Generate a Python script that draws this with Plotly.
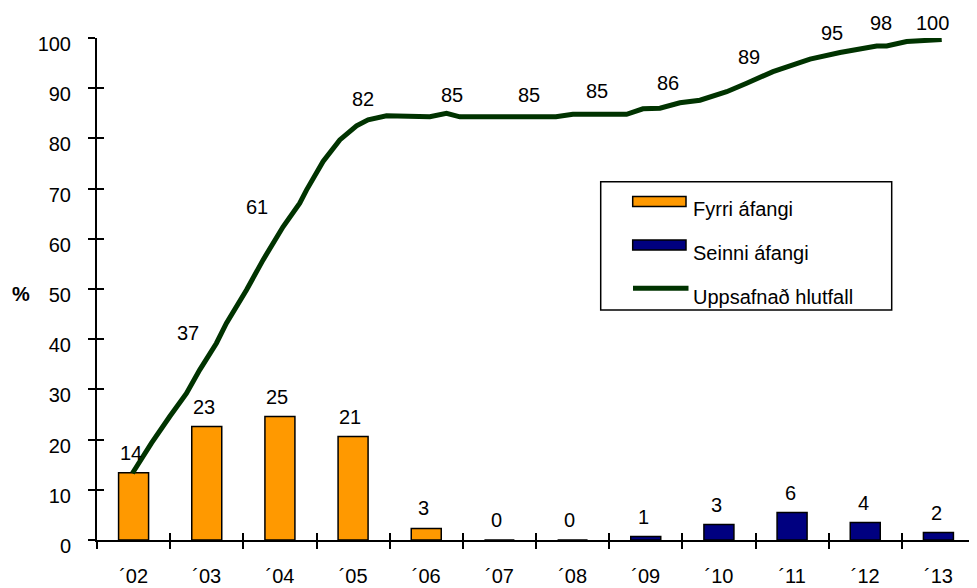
import plotly.graph_objects as go

# ---------------- data ----------------
categories = ["´02", "´03", "´04", "´05", "´06", "´07", "´08", "´09", "´10", "´11", "´12", "´13"]

fyrri_values = [13.4, 22.6, 24.6, 20.6, 2.3, 0, 0]          # ´02 - ´08
fyrri_labels = [14, 23, 25, 21, 3, 0, 0]
seinni_values = [0.7, 3.1, 5.5, 3.5, 1.5]                  # ´09 - ´13
seinni_labels = [1, 3, 6, 4, 2]

# cumulative share, sampled along the time axis (position in category units)
cum_pos = [-0.016, 0.244, 0.494, 0.722, 0.904, 1.132, 1.269, 1.406, 1.543, 1.770,
           2.043, 2.271, 2.363, 2.590, 2.818, 3.047, 3.205, 3.457, 3.639, 4.049,
           4.277, 4.459, 5.772, 6.004, 6.738, 6.961, 7.194, 7.467, 7.741, 8.106,
           8.379, 8.739, 9.245, 9.655, 10.156, 10.293, 10.566, 11.045]
cum_pct = [13.3, 19.3, 24.6, 29.2, 33.9, 39.2, 43.2, 46.5, 49.8, 55.8,
           62.4, 67.1, 69.7, 75.4, 79.7, 82.5, 83.7, 84.5, 84.5, 84.3,
           85.0, 84.3, 84.3, 84.8, 84.8, 85.9, 86.0, 87.1, 87.6, 89.3,
           91.0, 93.3, 95.8, 97.1, 98.4, 98.4, 99.3, 99.7]

cum_labels = [37, 61, 82, 85, 85, 85, 86, 89, 95, 98, 100]   # ´03 - ´13

# ---------------- style ----------------
ORANGE = "#FF9900"
NAVY = "#000080"
GREEN = "#003300"
FONT = "Liberation Sans, Arial, sans-serif"
FS = 20

# page body has an 8px margin; figure is sized so the plot lands where the reference has it
OFF = 8
W, H = 977 - OFF, 588 - OFF
ML, MR, MT, MB = 97 - OFF, 2, 38 - OFF, 48
PW, PH = W - ML - MR, H - MT - MB

# label offsets for cumulative labels (category units, pixels)
cum_label_dx = [-0.256, -0.307, 0.129, 0.354, 0.402, 0.328, 0.303, 0.414, 0.541, 0.211, -0.078]
cum_label_dy = [21.6, 27.1, 29.6, 18.1, 18.6, 22.6, 25.6, 36.1, 30.1, 25.1, 15.1]

idx = list(range(len(categories)))
fyrri_x = idx[:len(fyrri_values)]
seinni_x = idx[len(categories) - len(seinni_values):]
bounds = [i - 0.5 for i in range(len(categories) + 1)]

fig = go.Figure()
fig.add_trace(go.Bar(x=fyrri_x, y=fyrri_values, width=0.41, name="Fyrri áfangi",
                     marker=dict(color=ORANGE, line=dict(color="black", width=1.5))))
fig.add_trace(go.Bar(x=seinni_x, y=seinni_values, width=0.41, name="Seinni áfangi",
                     marker=dict(color=NAVY, line=dict(color="black", width=1.5))))
fig.add_trace(go.Scatter(x=cum_pos, y=cum_pct, mode="lines", name="Uppsafnað hlutfall",
                         line=dict(color=GREEN, width=5), cliponaxis=False))
# empty helper traces so the overlay axes (crossing ticks, centred labels) are drawn
fig.add_trace(go.Scatter(x=[], y=[], xaxis="x2", yaxis="y2", showlegend=False, hoverinfo="skip"))
fig.add_trace(go.Scatter(x=[], y=[], xaxis="x3", yaxis="y", showlegend=False, hoverinfo="skip"))

annotations = []
for x, v, lab in zip(fyrri_x, fyrri_values, fyrri_labels):
    annotations.append(dict(x=x, y=v, text=str(lab), showarrow=False, yshift=20, xshift=-3,
                            font=dict(size=FS, color="black", family=FONT)))
for x, v, lab in zip(seinni_x, seinni_values, seinni_labels):
    annotations.append(dict(x=x, y=v, text=str(lab), showarrow=False, yshift=19, xshift=-2,
                            font=dict(size=FS, color="black", family=FONT)))
for i, (lab, dx, dy) in enumerate(zip(cum_labels, cum_label_dx, cum_label_dy)):
    ci = i + 1
    annotations.append(dict(x=ci + dx, y=lab, text=str(lab), showarrow=False, yshift=dy,
                            font=dict(size=FS, color="black", family=FONT)))


def px2paper(px, py):
    """reference-window pixel -> paper coordinate"""
    return (px - OFF - ML) / PW, (MT + PH - (py - OFF)) / PH


ax, ay = px2paper(20.5, 294)
annotations.append(dict(x=ax, y=ay, xref="paper", yref="paper", text="<b>%</b>", showarrow=False,
                        xanchor="center", yanchor="middle",
                        font=dict(size=FS, color="black", family=FONT)))

# legend (drawn box)
shapes = []
x0, y0 = px2paper(600.7, 310)
x1, y1 = px2paper(891.7, 181.7)
shapes.append(dict(type="rect", xref="paper", yref="paper", x0=x0, y0=y0, x1=x1, y1=y1,
                   line=dict(color="black", width=1.5), fillcolor="white", layer="above"))
legend_items = [("Fyrri áfangi", ORANGE, 201.4, 209), ("Seinni áfangi", NAVY, 245, 253)]
for text, col, sy, ty in legend_items:
    a0, b0 = px2paper(632.7, sy + 5)
    a1, b1 = px2paper(686, sy - 5)
    shapes.append(dict(type="rect", xref="paper", yref="paper", x0=a0, y0=b0, x1=a1, y1=b1,
                       line=dict(color="black", width=1.5), fillcolor=col, layer="above"))
    tx, tyy = px2paper(690.7, ty)
    annotations.append(dict(x=tx, y=tyy, xref="paper", yref="paper", text=text, showarrow=False,
                            xanchor="left", yanchor="middle",
                            font=dict(size=FS, color="black", family=FONT)))
a0, b0 = px2paper(633, 288.3)
a1, _ = px2paper(688.5, 288.3)
shapes.append(dict(type="line", xref="paper", yref="paper", x0=a0, y0=b0, x1=a1, y1=b0,
                   line=dict(color=GREEN, width=5), layer="above"))
tx, tyy = px2paper(690.7, 297)
annotations.append(dict(x=tx, y=tyy, xref="paper", yref="paper", text="Uppsafnað hlutfall",
                        showarrow=False, xanchor="left", yanchor="middle",
                        font=dict(size=FS, color="black", family=FONT)))

yticks = list(range(0, 101, 10))
xr = [-0.5, len(categories) - 0.5]
fig.update_layout(
    width=W, height=H,
    margin=dict(l=ML, r=MR, t=MT, b=MB, autoexpand=False),
    paper_bgcolor="white", plot_bgcolor="white",
    font=dict(family=FONT, size=FS, color="black"),
    barmode="overlay", showlegend=False,
    xaxis=dict(range=xr, tickmode="array", tickvals=bounds, automargin=False,
               ticktext=[""] * len(bounds), ticks="outside", ticklen=7, tickwidth=1.5,
               tickcolor="black", showline=True, linecolor="black", linewidth=2,
               showgrid=False, zeroline=False),
    xaxis2=dict(overlaying="x", anchor="y", range=xr, automargin=False,
                tickmode="array", tickvals=bounds, ticktext=[""] * len(bounds),
                ticks="inside", ticklen=7, tickwidth=1.5, tickcolor="black",
                showline=False, showgrid=False, zeroline=False, side="bottom"),
    xaxis3=dict(overlaying="x", anchor="y", range=xr, automargin=False,
                tickmode="array", tickvals=idx, ticktext=categories, ticks="",
                showline=False, showgrid=False, zeroline=False, side="bottom",
                ticklabelstandoff=22, tickfont=dict(size=FS, family=FONT, color="black")),
    yaxis=dict(range=[0, 100], tickmode="array", tickvals=yticks, ticks="outside", ticklen=7,
               tickwidth=1.5, tickcolor="black", showline=True, linecolor="black", linewidth=2,
               showgrid=False, zeroline=False, ticklabelstandoff=13, ticklabelshift=6,
               automargin=False, tickfont=dict(size=FS, family=FONT, color="black")),
    yaxis2=dict(overlaying="y", anchor="x", range=[0, 100], tickmode="array", tickvals=yticks,
                ticks="inside", ticklen=7, tickwidth=1.5, tickcolor="black", automargin=False,
                showticklabels=False, showline=False, showgrid=False, zeroline=False),
    annotations=annotations,
    shapes=shapes,
)

fig.write_html("out.html")
